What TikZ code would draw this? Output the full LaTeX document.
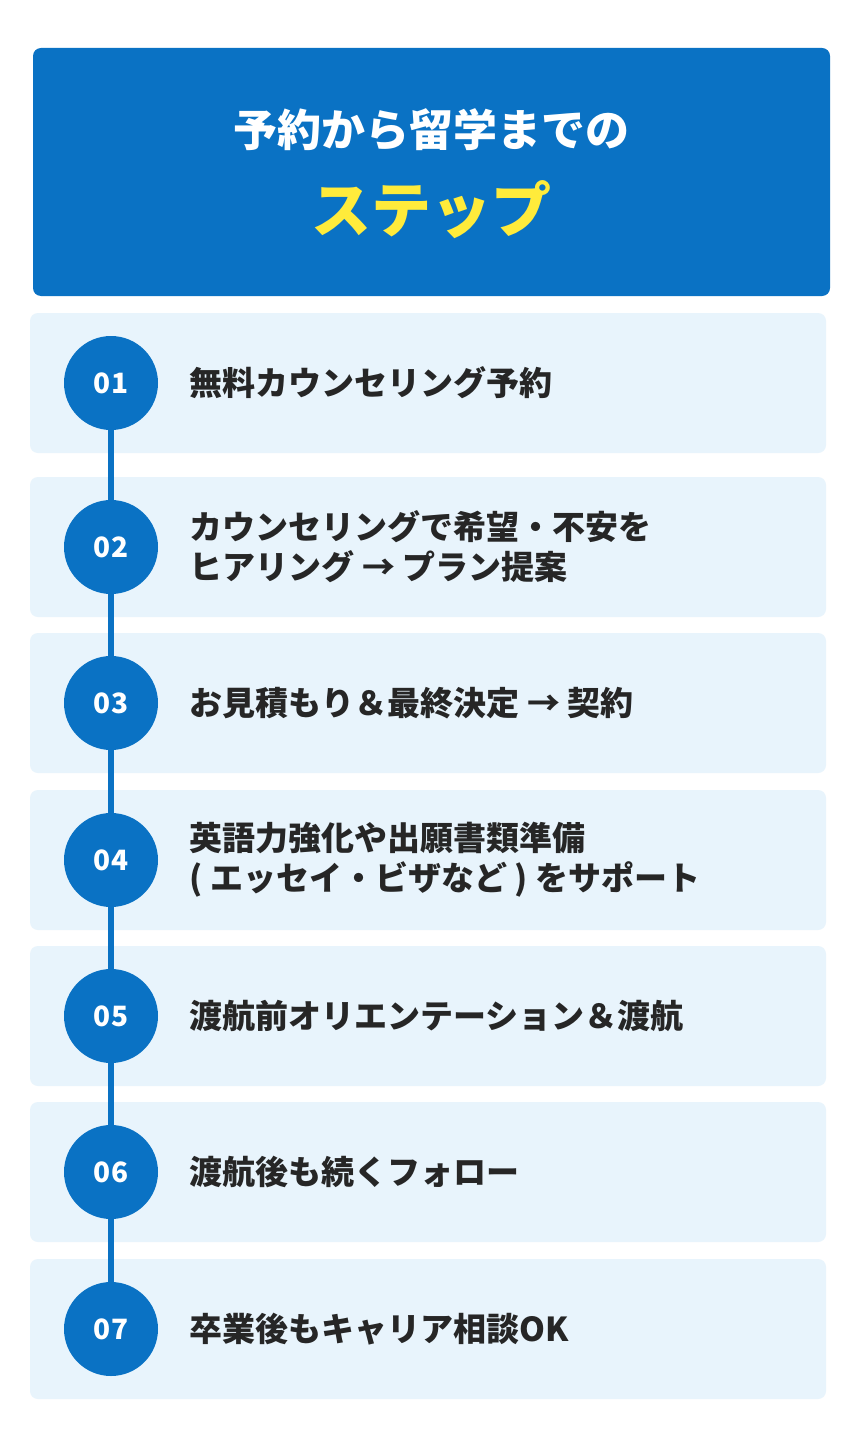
\documentclass[tikz,border=0pt]{standalone}
\usepackage{fontspec}
\setmainfont{Noto Sans CJK JP}
\definecolor{mainblue}{HTML}{0A72C4}
\definecolor{paleblue}{HTML}{E8F4FC}
\definecolor{titleyellow}{HTML}{FFEB3B}
\tikzset{
  stepbox/.style={fill=paleblue, rounded corners=8pt},
  stepnum/.style={circle, fill=mainblue, minimum size=94pt, inner sep=0, text=white, font=\fontsize{28}{30}\selectfont\bfseries},
  steptext/.style={anchor=west, align=left, font=\fontsize{33}{40}\selectfont\bfseries, text=black!85}
}
\begin{document}
\begin{tikzpicture}[x=1pt,y=-1pt]
  \useasboundingbox (0,0) rectangle (860,1431);
  \fill[white] (0,0) rectangle (860,1431);
  % header
  \fill[mainblue, rounded corners=8pt] (33,48) rectangle (830,296);
  \node (title) at (431,130) [text=white, font=\fontsize{44}{48}\selectfont\bfseries] {予約から留学までの};
  \node (subtitle) at (431,210) [text=titleyellow, font=\fontsize{60}{64}\selectfont\bfseries] {ステップ};
  % step boxes
  \foreach \i/\y in {1/383,2/547,3/703,4/860,5/1016,6/1172,7/1329}
    \fill[paleblue, rounded corners=8pt] (30,\y-70) rectangle (826,\y+70);
  \draw[mainblue, line width=6pt] (111,383) -- (111,1329);
  \foreach \i/\y/\t in {1/383/{無料カウンセリング予約},
      2/547/{カウンセリングで希望・不安を\\ヒアリング → プラン提案},
      3/703/{お見積もり＆最終決定 → 契約},
      4/860/{英語力強化や出願書類準備\\( エッセイ・ビザなど ) をサポート},
      5/1016/{渡航前オリエンテーション＆渡航},
      6/1172/{渡航後も続くフォロー},
      7/1329/{卒業後もキャリア相談OK}} {
    \node (num\i) at (111,\y) [stepnum] {0\i};
    \node (text\i) at (186,\y) [steptext] {\t};
  }
\end{tikzpicture}
\end{document}
